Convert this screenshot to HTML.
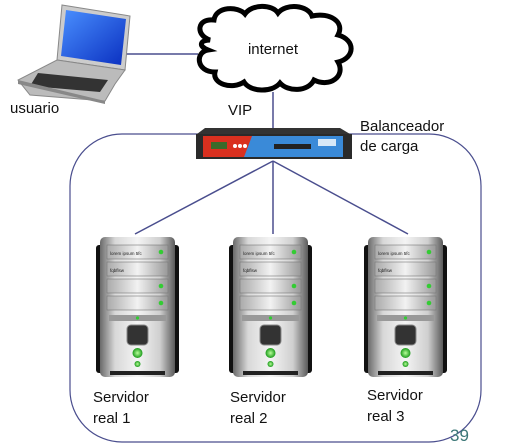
<!DOCTYPE html>
<html><head><meta charset="utf-8"><style>
body{margin:0;background:#fff;}
svg{display:block;font-family:"Liberation Sans",sans-serif;}
</style></head><body>
<svg width="507" height="448" viewBox="0 0 507 448">
<defs>
<linearGradient id="met" x1="0" x2="1" y1="0" y2="0">
<stop offset="0" stop-color="#6a6a6a"/><stop offset="0.2" stop-color="#d8d8d8"/><stop offset="0.5" stop-color="#f4f4f4"/><stop offset="0.8" stop-color="#cfcfcf"/><stop offset="1" stop-color="#5a5a5a"/>
</linearGradient>
<linearGradient id="bay" x1="0" x2="1"><stop offset="0" stop-color="#aaa"/><stop offset="0.5" stop-color="#f2f2f2"/><stop offset="1" stop-color="#999"/></linearGradient>
<radialGradient id="grn"><stop offset="0" stop-color="#b8ff9a"/><stop offset="1" stop-color="#1a9a1a"/></radialGradient>
<linearGradient id="scr" x1="0" y1="0" x2="1" y2="1"><stop offset="0" stop-color="#4a90ff"/><stop offset="1" stop-color="#0a2fc0"/></linearGradient>
<g id="srv">
<rect x="-4" y="8" width="8" height="128" rx="3" fill="#111"/>
<rect x="71" y="8" width="8" height="128" rx="3" fill="#111"/>
<rect x="0" y="0" width="75" height="140" rx="5" fill="url(#met)"/>
<rect x="7" y="8" width="61" height="14" fill="url(#bay)" stroke="#777" stroke-width="0.6"/>
<text x="10" y="18" font-size="4.5" fill="#222">lorem ipsum 5fc</text>
<circle cx="61" cy="15" r="2.3" fill="#3c3"/>
<rect x="7" y="25" width="61" height="14" fill="url(#bay)" stroke="#777" stroke-width="0.6"/>
<text x="10" y="35" font-size="4.5" fill="#222">fqbflsw</text>
<rect x="7" y="42" width="61" height="14" fill="url(#bay)" stroke="#777" stroke-width="0.6"/>
<circle cx="61" cy="49" r="2.3" fill="#3c3"/>
<rect x="7" y="59" width="61" height="14" fill="url(#bay)" stroke="#777" stroke-width="0.6"/>
<circle cx="61" cy="66" r="2.3" fill="#3c3"/>
<rect x="9" y="78" width="57" height="6" fill="#999"/>
<circle cx="37.5" cy="81" r="1.6" fill="#3c3"/>
<rect x="27" y="88" width="21" height="20" rx="4" fill="#333" stroke="#888"/>
<circle cx="37.5" cy="116" r="5" fill="url(#grn)"/>
<circle cx="37.5" cy="127" r="3" fill="url(#grn)"/>
<rect x="10" y="134" width="55" height="4" fill="#222"/>
</g>
</defs>
<rect x="70" y="134" width="411" height="308" rx="52" fill="none" stroke="#4a4e8e" stroke-width="1.2"/>
<line x1="117" y1="54" x2="198" y2="54" stroke="#4a4e8e" stroke-width="1.5"/>
<line x1="273" y1="92" x2="273" y2="130" stroke="#4a4e8e" stroke-width="1.5"/>
<line x1="273" y1="161" x2="135" y2="234" stroke="#4a4e8e" stroke-width="1.5"/>
<line x1="273" y1="161" x2="273" y2="234" stroke="#4a4e8e" stroke-width="1.5"/>
<line x1="273" y1="161" x2="408" y2="234" stroke="#4a4e8e" stroke-width="1.5"/>
<!-- laptop -->
<polygon points="62,5 130,16 125,70 57,60" fill="#ccc" stroke="#888"/>
<polygon points="66,10 126,19 121,65 61,56" fill="url(#scr)"/>
<polygon points="57,60 125,70 115,84 105,101 30,95 18,80" fill="#bbb" stroke="#888"/>
<polygon points="38,73 108,80 100,92 30,86" fill="#333"/>
<polygon points="18,80 105,101 105,104 18,84" fill="#888"/>
<text x="10" y="113" font-size="15" fill="#111">usuario</text>
<!-- cloud -->
<path d="M210,40 C195,35 197,18 214,20 C216,6 238,6 245,14 C252,4 272,4 278,13 C286,3 308,5 312,16 C330,12 345,22 338,35 C356,40 355,58 338,62 C346,76 330,88 314,80 C308,92 288,92 280,83 C272,93 250,92 244,82 C232,90 212,84 215,72 C196,72 195,52 208,50 C198,46 200,40 210,40 Z" fill="#fff" stroke="#000" stroke-width="5"/>
<text x="273" y="54" font-size="15" text-anchor="middle" fill="#111">internet</text>
<text x="228" y="115" font-size="15" fill="#111">VIP</text>
<!-- balancer -->
<polygon points="205,128 340,128 350,134 197,134" fill="#333"/>
<rect x="196" y="134" width="156" height="25" fill="#2a2a2a"/>
<rect x="203" y="136" width="140" height="21" fill="#3a8ad8"/>
<polygon points="203,136 252,136 244,157 203,157" fill="#d9301f"/>
<rect x="211" y="142" width="16" height="7" fill="#3a6a2a"/>
<circle cx="235" cy="146" r="2" fill="#fff"/><circle cx="240" cy="146" r="2" fill="#fff"/><circle cx="245" cy="146" r="2" fill="#fff"/>
<rect x="274" y="144" width="37" height="5" fill="#222"/>
<rect x="318" y="139" width="18" height="7" fill="#fff" opacity="0.8"/>
<text x="360" y="131" font-size="15" fill="#111">Balanceador</text>
<text x="360" y="151" font-size="15" fill="#111">de carga</text>
<use href="#srv" x="100" y="237"/>
<use href="#srv" x="233" y="237"/>
<use href="#srv" x="368" y="237"/>
<g font-size="15" fill="#111">
<text x="93" y="402">Servidor</text><text x="93" y="423">real 1</text>
<text x="230" y="402">Servidor</text><text x="230" y="423">real 2</text>
<text x="367" y="400">Servidor</text><text x="367" y="421">real 3</text>
</g>
<text x="450" y="441" font-size="17" fill="#3d7878">39</text>
</svg>
</body></html>
